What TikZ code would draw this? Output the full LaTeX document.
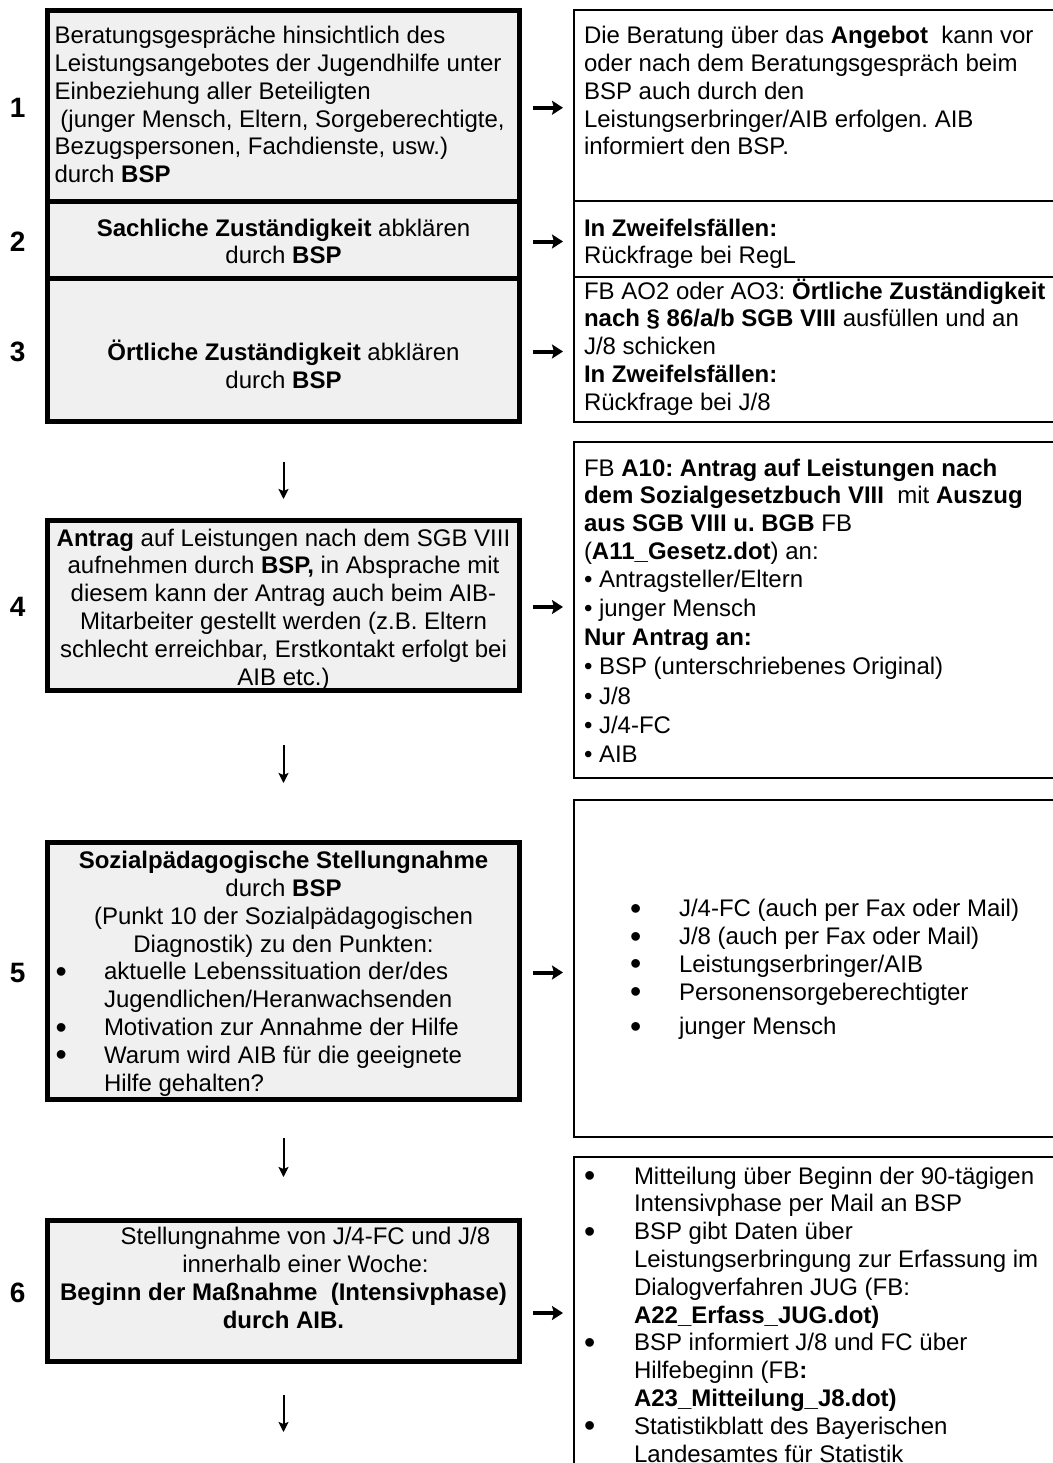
\documentclass[tikz,border=0pt]{standalone}
\usepackage{fontspec}
\setmainfont{Liberation Sans}
\usetikzlibrary{positioning}
\usetikzlibrary{arrows.meta}
\frenchspacing

% Feld: Hoehe, Breite, Abstand oben, Text
\newcommand{\feld}[4]{\parbox[c][#1][t]{#2}{\vspace*{#3}\rule{0pt}{11pt}#4}}
\newcommand{\kugel}{\smash{\raisebox{-1.3pt}{\fontsize{16}{14}\selectfont\textbullet}}}
\newcommand{\punkt}[2]{\hspace*{#1}\makebox[#2][l]{\kugel}}

\tikzset{
	>={Stealth[length=5pt,width=5pt,inset=1pt]},
	schritt/.style={
		rectangle,
		fill=gray!12,
		draw=black, line width=2.5pt,
		inner xsep=1pt, inner ysep=0pt,
		outer sep=0pt,
		font=\fontsize{12}{13.9}\selectfont},
	hinweis/.style={
		rectangle,
		draw=black, line width=1pt,
		inner xsep=5pt, inner ysep=0pt,
		outer sep=0pt,
		font=\fontsize{12}{13.9}\selectfont},
	nummer/.style={inner sep=0pt, font=\fontsize{14}{16}\selectfont\bfseries},
	pfeil/.style={draw, line width=1pt, ->},
	zeiger/.style={draw, line width=2pt, -{Stealth[length=5.5pt,width=7pt,inset=1pt]},
		shorten <=6.75pt, shorten >=5.5pt},
}

\begin{document}
\begin{tikzpicture}[x=0.5pt, y=-0.5pt]
	\useasboundingbox (0,0) rectangle (1053,1463);
	\clip (0,0) rectangle (1053,1463);
	% linke Spalte
	\node[schritt] (box1) at (283.5,105.75) {\feld{95.25pt}{234pt}{5.55pt}{\raggedright\leftskip=2.5pt
		Beratungsgespräche hinsichtlich des\\
		Leistungsangebotes der Jugendhilfe unter\\
		Einbeziehung aller Beteiligten\\
		\hspace*{3pt}(junger Mensch, Eltern, Sorgeberechtigte,\\
		Bezugspersonen, Fachdienste, usw.)\\
		durch \textbf{BSP}}};
	\node[schritt, below=0pt of box1] (box2) {\feld{38.5pt}{234pt}{6.55pt}{\centering
		\textbf{Sachliche Zuständigkeit} abklären\\
		durch \textbf{BSP}}};
	\node[schritt, below=0pt of box2] (box3) {\feld{71.5pt}{234pt}{30.3pt}{\centering
		\textbf{Örtliche Zuständigkeit} abklären\\
		durch \textbf{BSP}}};
	\node[schritt, below=49.5pt of box3] (box4) {\feld{85pt}{234pt}{2.05pt}{\centering
		\textbf{Antrag} auf Leistungen nach dem SGB VIII\\
		aufnehmen durch \textbf{BSP,} in Absprache mit\\
		diesem kann der Antrag auch beim AIB-\\
		Mitarbeiter gestellt werden (z.B. Eltern\\
		schlecht erreichbar, Erstkontakt erfolgt bei\\
		AIB etc.)}};
	\node[schritt, below=76pt of box4] (box5) {\feld{128.5pt}{234pt}{2.3pt}{\centering
		\textbf{Sozialpädagogische Stellungnahme}\\
		durch \textbf{BSP}\\
		(Punkt 10 der Sozialpädagogischen\\
		Diagnostik) zu den Punkten:\par\raggedright
		\punkt{3pt}{24.25pt}aktuelle Lebenssituation der/des\\
		\hspace*{27.25pt}Jugendlichen/Heranwachsenden\\
		\punkt{3pt}{24.25pt}Motivation zur Annahme der Hilfe\\
		\punkt{3pt}{24.25pt}Warum wird AIB für die geeignete\\
		\hspace*{27.25pt}Hilfe gehalten?}};
	\node[schritt, below=60.5pt of box5] (box6) {\feld{70.5pt}{234pt}{1.3pt}{\centering
		\hspace*{22pt}Stellungnahme von J/4-FC und J/8\\
		\hspace*{22pt}innerhalb einer Woche:\\
		\textbf{Beginn der Maßnahme~ (Intensivphase)}\\
		\textbf{durch AIB.}}};
	% rechte Spalte
	\node[hinweis, anchor=north west] (info1) at (574,10) {\feld{95.5pt}{250pt}{5.8pt}{\raggedright
		Die Beratung über das \textbf{Angebot}~ kann vor\\
		oder nach dem Beratungsgespräch beim\\
		BSP auch durch den\\
		Leistungserbringer/AIB erfolgen. AIB\\
		informiert den BSP.}};
	\node[hinweis, below=0pt of info1] (info2) {\feld{38pt}{250pt}{6.55pt}{\raggedright
		\textbf{In Zweifelsfällen:}\\
		Rückfrage bei RegL}};
	\node[hinweis, below=0pt of info2] (info3) {\feld{72.5pt}{250pt}{0pt}{\raggedright
		FB AO2 oder AO3: \textbf{Örtliche Zuständigkeit}\\
		\textbf{nach § 86/a/b SGB VIII} ausfüllen und an\\
		J/8 schicken\\
		\textbf{In Zweifelsfällen:}\\
		Rückfrage bei J/8}};
	\node[hinweis, below=10pt of info3] (info4) {\feld{168pt}{250pt}{6.05pt}{\raggedright
		FB \textbf{A10: Antrag auf Leistungen nach}\\
		\textbf{dem Sozialgesetzbuch VIII}~ mit \textbf{Auszug}\\
		\textbf{aus SGB VIII u. BGB} FB\\
		(\textbf{A11\_Gesetz.dot}) an:\\
		\textbullet\ Antragsteller/Eltern\\[0.7pt]
		\textbullet\ junger Mensch\\[0.7pt]
		\textbf{Nur Antrag an:}\\[0.7pt]
		\textbullet\ BSP (unterschriebenes Original)\\[0.7pt]
		\textbullet\ J/8\\[0.7pt]
		\textbullet\ J/4-FC\\[0.7pt]
		\textbullet\ AIB}};
	\node[hinweis, below=11pt of info4] (info5) {\feld{168.5pt}{250pt}{47.3pt}{\raggedright
		\punkt{23pt}{24.5pt}J/4-FC (auch per Fax oder Mail)\\
		\punkt{23pt}{24.5pt}J/8 (auch per Fax oder Mail)\\
		\punkt{23pt}{24.5pt}Leistungserbringer/AIB\\
		\punkt{23pt}{24.5pt}Personensorgeberechtigter\\[3.5pt]
		\punkt{23pt}{24.5pt}junger Mensch}};
	\node[hinweis, below=10pt of info5] (info6) {\feld{170pt}{250pt}{2.55pt}{\raggedright
		\punkt{0pt}{25pt}Mitteilung über Beginn der 90-tägigen\\
		\hspace*{25pt}Intensivphase per Mail an BSP\\
		\punkt{0pt}{25pt}BSP gibt Daten über\\
		\hspace*{25pt}Leistungserbringung zur Erfassung im\\
		\hspace*{25pt}Dialogverfahren JUG (FB:\\
		\hspace*{25pt}\textbf{A22\_Erfass\_JUG.dot)}\\
		\punkt{0pt}{25pt}BSP informiert J/8 und FC über\\
		\hspace*{25pt}Hilfebeginn (FB\textbf{:}\\
		\hspace*{25pt}\textbf{A23\_Mitteilung\_J8.dot)}\\
		\punkt{0pt}{25pt}Statistikblatt des Bayerischen\\
		\hspace*{25pt}Landesamtes für Statistik}};
	% Nummern
	\foreach \i in {1,...,6}
		\node[nummer, left=10.8pt of box\i.west, yshift=-1pt] (n\i) {\i};
	% Pfeile
	\draw[pfeil, shorten <=20.5pt, shorten >=10.5pt] (box3) -- (box4);
	\draw[pfeil, shorten <=27.5pt, shorten >=29.5pt] (box4) -- (box5);
	\draw[pfeil, shorten <=19.5pt, shorten >=21.5pt] (box5) -- (box6);
	\coordinate (ende) at (283.5,1432);
	\draw[pfeil, shorten <=17pt] (box6) -- (ende);
	\foreach \i in {1,...,5}
		\draw[zeiger] ([yshift=-1pt]box\i.east) -- ([yshift=-1pt]box\i.east -| info\i.west);
	\draw[zeiger] ([yshift=-11.25pt]box6.east) -- ([yshift=-11.25pt]box6.east -| info6.west);
\end{tikzpicture}
\end{document}
